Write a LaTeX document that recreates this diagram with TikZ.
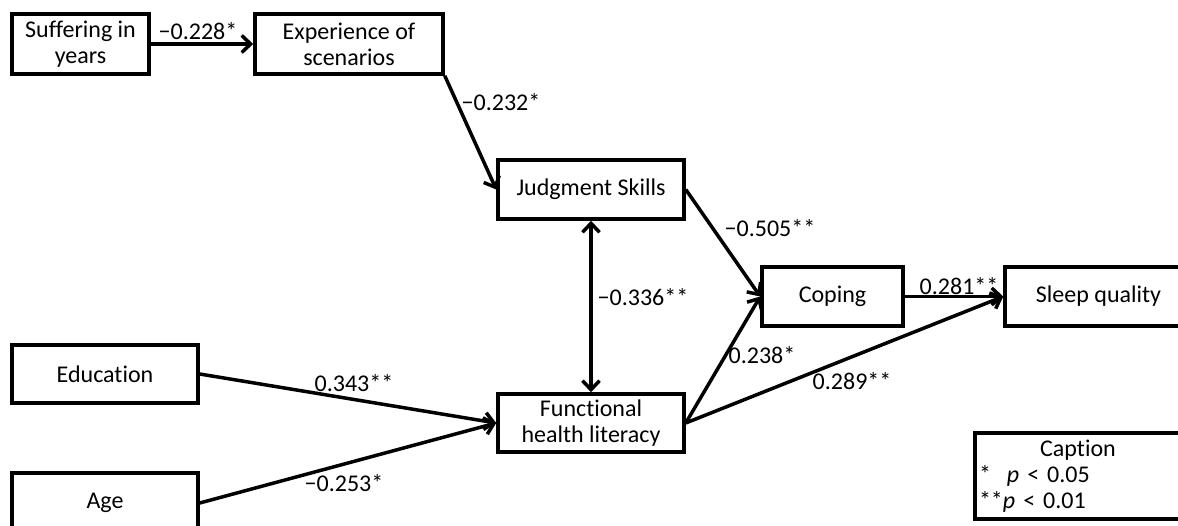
\documentclass[tikz,border=0pt]{standalone}
\usepackage{fontspec}
\setmainfont{Carlito}[Ligatures=NoCommon]
\usetikzlibrary{arrows.meta}
\begin{document}
\begin{tikzpicture}[x=1pt,y=-1pt,
  font=\fontsize{24}{26}\selectfont,
  box/.style={draw,line width=3.5pt,rectangle,inner sep=2pt,align=center,anchor=center},
  tip/.tip={Straight Barb[length=9pt,width=17pt,line width=3.5pt]},
  conn/.style={line width=3.5pt,-tip},
  biconn/.style={line width=3.5pt,tip-tip},
  lbl/.style={inner sep=0pt,anchor=center}]
\useasboundingbox (0,0) rectangle (1178,526);
\begin{scope}
\clip (0,0) rectangle (1178,526);
\node[box,minimum width=137pt,minimum height=60pt] (suf) at (80.5,44) {Suffering in\\years};
\node[box,minimum width=188pt,minimum height=60pt] (exp) at (349,44) {Experience of\\scenarios};
\node[box,minimum width=186pt,minimum height=59pt] (jud) at (591,189.5) {Judgment Skills};
\node[box,minimum width=141pt,minimum height=59pt] (cop) at (832.5,296.5) {Coping};
\node[box,minimum width=187pt,minimum height=59pt] (slp) at (1098.5,296.5) {Sleep quality};
\node[box,minimum width=186pt,minimum height=58pt] (fun) at (591,423) {Functional\\health literacy};
\node[box,minimum width=186pt,minimum height=58pt] (edu) at (105,374) {Education};
\node[box,minimum width=186pt,minimum height=60pt] (age) at (105,503) {Age};
\node[box,minimum width=206pt,minimum height=86pt,text width=198pt,align=left,inner sep=3pt] (cap) at (1078,476)
  {\makebox[\linewidth][c]{Caption}\\{*}\ \ \textit{p} < 0.05\\{**}\textit{p} < 0.01};

\draw[conn] (suf.east) -- (exp.west);
\draw[conn] (exp.south east) -- (jud.west);
\draw[conn] (jud.east) -- (cop.west);
\draw[biconn] (jud.south) -- (fun.north);
\draw[conn] (fun.east) -- (cop.west);
\draw[conn] (fun.east) -- (slp.west);
\draw[conn] (cop.east) -- (slp.west);
\draw[conn] (edu.east) -- (fun.west);
\draw[conn] (age.east) -- (fun.west);

\node[lbl] (l1) at (198,31) {−0.228*};
\node[lbl] (l2) at (501,102) {−0.232*};
\node[lbl] (l3) at (770,228) {−0.505**};
\node[lbl] (l4) at (643,297) {−0.336**};
\node[lbl] (l5) at (762,355) {0.238*};
\node[lbl] (l6) at (852,381) {0.289**};
\node[lbl] (l7) at (959,286) {0.281**};
\node[lbl] (l8) at (354,383) {0.343**};
\node[lbl] (l9) at (344,483) {−0.253*};
\end{scope}
\end{tikzpicture}
\end{document}
